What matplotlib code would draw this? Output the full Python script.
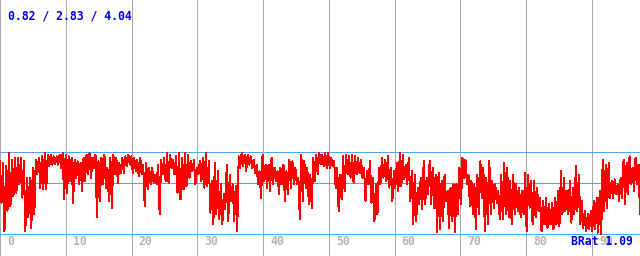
import numpy as np
import matplotlib
matplotlib.use("Agg")
import matplotlib.pyplot as plt

# summary shown top-left (min / avg / max) and ratio bottom-right
stat_min = 0.82
stat_avg = 2.83
stat_max = 4.04
brat = 1.09

x_ticks = [0, 10, 20, 30, 40, 50, 60, 70, 80, 90]
x_end = 97.3

# series, left to right
values = [
    3.69, 2.06, 3.62, 0.95, 3.49, 1.74, 4.01, 1.93, 3.75, 2.32, 3.82, 2.45,
    3.82, 2.78, 3.82, 2.26, 3.69, 0.95, 3.04, 1.48, 3.04, 1.08, 3.43, 1.61,
    3.75, 3.17, 3.82, 2.65, 3.88, 2.58, 4.01, 2.58, 3.95, 3.49, 3.95, 3.56,
    3.88, 3.56, 3.88, 3.56, 3.95, 3.43, 4.01, 2.19, 3.95, 2.45, 3.88, 2.91,
    3.82, 2.06, 3.75, 3.04, 3.69, 2.78, 3.62, 2.52, 3.82, 2.91, 3.95, 3.17,
    4.01, 3.04, 3.82, 3.43, 3.95, 1.48, 3.69, 2.13, 3.82, 2.78, 3.95, 2.65,
    # 107 px
    3.43, 2.13, 3.82, 1.87, 3.95, 3.17, 3.82, 2.85, 3.62, 3.23, 3.82, 3.23,
    3.88, 3.49, 3.95, 3.56, 3.88, 3.23, 3.82, 3.30, 3.75, 3.10, 3.82, 3.17,
    3.56, 1.93, 3.62, 2.58, 3.43, 2.78, 3.43, 2.85, 3.17, 2.78, 3.56, 1.61,
    3.75, 3.17, 3.82, 2.91, 4.01, 2.85, 3.95, 3.43, 3.75, 3.17, 3.88, 2.45,
    4.01, 2.19, 3.82, 2.58, 4.01, 2.71, 3.95, 3.04, 3.69, 3.30, 3.75, 2.78,
    3.43, 3.17, 3.69, 2.91, 3.82, 2.65, 4.01, 2.71, 3.69, 1.67, 2.91, 1.21,
    # 214 px
    3.62, 1.61, 3.30, 1.41, 2.78, 1.21, 2.39, 1.80, 3.56, 1.34, 3.17, 2.13,
    2.78, 1.34, 2.71, 0.95, 3.88, 3.43, 4.01, 3.49, 3.95, 3.30, 3.95, 3.56,
    3.88, 3.43, 3.75, 3.23, 3.56, 2.78, 3.30, 2.26, 3.95, 2.91, 3.56, 2.65,
    3.56, 2.52, 3.82, 2.78, 3.43, 2.91, 3.30, 2.39, 3.43, 2.78, 3.56, 2.13,
    3.30, 2.39, 3.75, 2.65, 3.69, 2.78, 3.43, 2.78, 3.04, 1.41, 3.95, 2.13,
    3.69, 2.65, 3.43, 2.00, 3.17, 1.87, 3.82, 2.91, 3.95, 3.17, 4.01, 3.56,
    # 321 px
    3.95, 3.49, 4.01, 3.43, 4.01, 3.43, 3.82, 3.49, 3.69, 2.65, 3.43, 1.74,
    3.17, 2.19, 3.88, 2.52, 3.95, 3.17, 3.88, 3.04, 3.95, 2.85, 3.88, 3.17,
    3.82, 3.23, 3.75, 3.04, 3.43, 2.13, 3.30, 2.78, 3.69, 2.06, 3.04, 1.34,
    2.78, 1.61, 3.43, 2.78, 3.82, 3.04, 3.75, 2.91, 3.88, 2.65, 3.43, 2.13,
    3.30, 2.65, 3.62, 2.52, 4.01, 2.71, 3.95, 2.98, 3.56, 2.78, 3.82, 2.13,
    3.30, 1.21, 3.17, 1.34, 2.65, 2.00, 3.04, 1.80, 3.69, 2.00, 3.04, 2.39,
    # 428 px
    3.69, 2.00, 3.43, 1.87, 3.17, 0.89, 3.23, 1.02, 2.91, 1.34, 3.17, 2.13,
    2.52, 1.08, 2.65, 1.34, 2.78, 0.89, 2.78, 1.61, 3.43, 2.00, 3.82, 3.04,
    3.75, 2.78, 3.17, 1.93, 2.91, 1.61, 2.78, 1.02, 3.17, 1.61, 3.69, 2.26,
    3.43, 0.95, 3.04, 1.21, 3.69, 1.61, 2.91, 1.87, 2.78, 2.06, 2.52, 1.41,
    3.17, 1.41, 3.62, 1.61, 3.43, 1.48, 2.91, 1.21, 3.17, 1.61, 2.78, 1.74,
    2.65, 1.48, 2.52, 1.61, 3.23, 0.95, 3.17, 1.87, 2.91, 1.21, 2.91, 1.48,
    # 535 px
    2.65, 1.74, 2.26, 0.95, 2.13, 1.21, 2.26, 1.08, 2.00, 1.21, 2.06, 1.02,
    2.26, 1.21, 2.52, 1.15, 3.30, 1.61, 3.04, 1.74, 2.52, 1.61, 2.91, 1.28,
    2.65, 1.61, 3.49, 1.74, 3.17, 1.21, 2.13, 1.08, 1.74, 0.95, 1.61, 1.02,
    1.74, 0.95, 2.13, 1.02, 2.26, 0.89, 2.52, 0.83, 3.75, 1.74, 3.56, 1.87,
    3.62, 2.26, 2.91, 2.26, 2.98, 2.39, 2.78, 2.13, 3.04, 2.26, 3.75, 2.00,
    3.62, 2.39, 3.88, 2.78, 3.43, 2.52, 3.82, 2.78, 3.56, 1.61,
]

fig = plt.figure(figsize=(6.4, 2.56), dpi=100)
ax = fig.add_axes([0, 0, 1, 1])
ax.set_xlim(0, x_end)
ax.set_ylim(-0.03, 10.02)
ax.axis('off')

mono = 'DejaVu Sans Mono'

# vertical grid
for t in x_ticks:
    ax.axvline(t, color='#aaaaaa', lw=0.72, antialiased=False, zorder=1)
    ax.annotate(str(t), xy=(t, 0.057), xycoords=('data', 'axes fraction'),
                xytext=(5, 0), textcoords='offset points', ha='left', va='center',
                color='#b4b4b4', fontsize=8.3, fontweight='bold', family=mono)

# min / avg / max lines
for v in (stat_min, stat_avg, stat_max):
    ax.axhline(v, color='#4da6ff', lw=0.72, antialiased=False, zorder=2)

x = np.linspace(0, x_end, len(values))
ax.plot(x, values, color='#ff0000', lw=0.72, antialiased=False, zorder=3)

ax.text(0.0125, 0.939, '%.2f / %.2f / %.2f' % (stat_min, stat_avg, stat_max),
        transform=ax.transAxes, ha='left', va='center', color='#0000ee',
        fontsize=8.3, fontweight='bold', family=mono)
ax.text(0.989, 0.057, 'BRat %.2f' % brat, transform=ax.transAxes,
        ha='right', va='center', color='#0000ee', fontsize=8.3,
        fontweight='bold', family=mono, zorder=5)

fig.savefig('out.png', dpi=100)
